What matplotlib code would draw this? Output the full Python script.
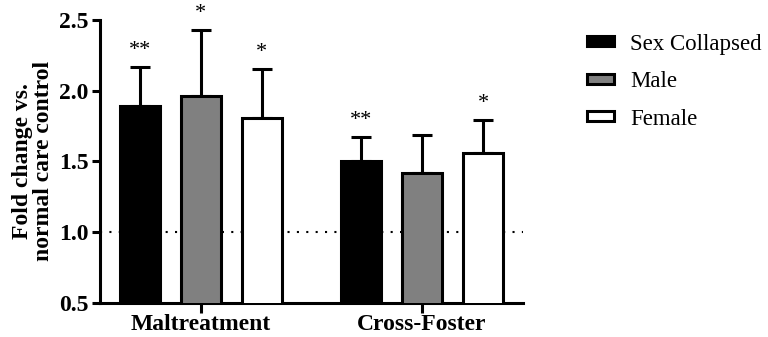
import matplotlib.pyplot as plt
import numpy as np
from matplotlib.patches import Patch

plt.rcParams['font.family'] = ['Liberation Serif', 'DejaVu Serif']

groups = ['Maltreatment', 'Cross-Foster']
series = ['Sex Collapsed', 'Male', 'Female']
means = {
    'Sex Collapsed': [1.89, 1.50],
    'Male': [1.96, 1.42],
    'Female': [1.81, 1.56],
}
errs = {
    'Sex Collapsed': [0.28, 0.17],
    'Male': [0.47, 0.27],
    'Female': [0.34, 0.23],
}
stars = {
    'Sex Collapsed': ['**', '**'],
    'Male': ['*', ''],
    'Female': ['*', '*'],
}
colors = {'Sex Collapsed': 'black', 'Male': '#808080', 'Female': 'white'}

fig = plt.figure(figsize=(7.68, 3.37), dpi=100)
ax = fig.add_axes([0.130, 0.101, 0.551, 0.840])

x = np.arange(len(groups))
offset = 0.276
width = 0.18
lw = 2.2

ax.axhline(1.0, color='black', linestyle=(0, (1, 3.5)), linewidth=1.5, zorder=1)

for i, s in enumerate(series):
    xs = x + (i - 1) * offset
    ax.bar(xs, means[s], width, color=colors[s], edgecolor='black',
           linewidth=lw, zorder=3)
    ax.errorbar(xs, means[s], yerr=[np.zeros(2), errs[s]], fmt='none',
                ecolor='black', elinewidth=lw, capsize=7, capthick=lw, zorder=2)
    for xi, m, e, st in zip(xs, means[s], errs[s], stars[s]):
        if st:
            ax.text(xi, m + e + 0.05, st, ha='center', va='bottom', fontsize=16)

ax.set_ylim(0.5, 2.5)
ax.set_xlim(-0.457, 1.457)
ax.set_yticks([0.5, 1.0, 1.5, 2.0, 2.5])
ax.set_yticklabels(['0.5', '1.0', '1.5', '2.0', '2.5'])
ax.set_xticks(x)
ax.set_xticklabels(groups)
for lab in ax.get_xticklabels() + ax.get_yticklabels():
    lab.set_fontweight('bold')
    lab.set_fontsize(17)
ax.tick_params(axis='both', width=lw, length=6, pad=2)
ax.tick_params(axis='x', length=7, pad=1)
ax.spines['top'].set_visible(False)
ax.spines['right'].set_visible(False)
ax.spines['left'].set_linewidth(lw)
ax.spines['bottom'].set_linewidth(lw)
ax.set_ylabel('Fold change vs.\nnormal care control', fontsize=17,
              fontweight='bold', linespacing=1.0, labelpad=4)

handles = [Patch(facecolor=colors[s], edgecolor='black', linewidth=lw, label=s)
           for s in series]
fig.legend(handles=handles, loc='upper left', bbox_to_anchor=(0.764, 0.90),
           frameon=False, fontsize=16.5, handlelength=1.2, handleheight=0.3,
           labelspacing=0.72, handletextpad=0.7, borderpad=0, borderaxespad=0)

fig.savefig('out.png', dpi=100)
